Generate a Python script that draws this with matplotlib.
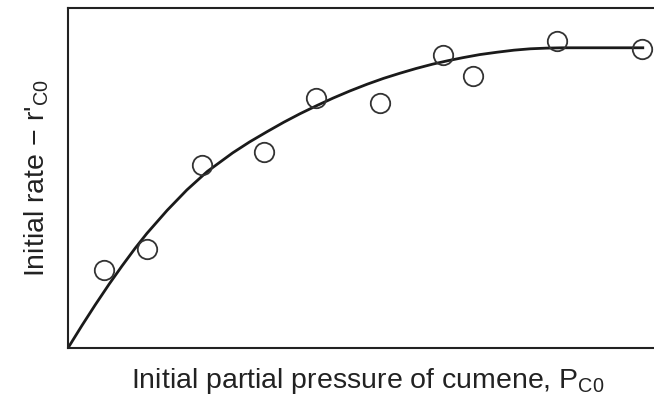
import matplotlib
matplotlib.use("Agg")
import matplotlib.pyplot as plt

plt.rcParams["font.family"] = ["Liberation Sans", "DejaVu Sans"]
plt.rcParams["mathtext.fontset"] = "custom"
plt.rcParams["mathtext.rm"] = "Liberation Sans"
plt.rcParams["mathtext.it"] = "Liberation Sans:italic"

p_meas = [0.62, 1.36, 2.31, 3.38, 4.28, 5.38, 6.47, 6.98, 8.43, 9.90]
r_meas = [2.29, 2.91, 5.38, 5.76, 7.35, 7.21, 8.62, 8.00, 9.03, 8.79]

# fitted curve
p_fit = [0.0, 0.24, 0.47, 0.71, 0.93, 1.16, 1.36, 1.71, 2.05, 2.40, 2.84,
         3.13, 3.43, 3.72, 4.00, 4.29, 4.57, 4.86, 5.16, 5.44, 5.72, 6.00,
         6.29, 6.55, 6.81, 7.10, 7.40, 7.69, 7.97, 8.25, 8.53, 9.20, 9.91]
r_fit = [0.0, 0.66, 1.27, 1.88, 2.41, 2.94, 3.37, 4.05, 4.65, 5.19, 5.74,
         6.06, 6.36, 6.64, 6.89, 7.13, 7.35, 7.56, 7.76, 7.93, 8.08, 8.22,
         8.35, 8.45, 8.54, 8.63, 8.70, 8.76, 8.80, 8.82, 8.83, 8.83, 8.83]

fig = plt.figure(figsize=(6.54, 4.11), dpi=100)
ax = fig.add_axes([68 / 654, 63 / 411, 600 / 654, 340 / 411])

ax.plot(p_fit, r_fit, color="#1a1a1a", linewidth=2.0,
        solid_joinstyle="round", zorder=2)
ax.plot(p_meas, r_meas, linestyle="none", marker="o", markersize=14,
        markerfacecolor="none", markeredgecolor="#333333",
        markeredgewidth=1.3, zorder=3)

ax.set_xlim(0, 600 / 58)
ax.set_ylim(0, 10)
ax.set_xticks([])
ax.set_yticks([])
ax.spines["right"].set_visible(False)
for side in ("left", "top", "bottom"):
    ax.spines[side].set_linewidth(1.5)
    ax.spines[side].set_color("#222222")

ax.set_xlabel(r"Initial partial pressure of cumene, P$_{\mathrm{C0}}$",
              fontsize=20.5, color="#222222", labelpad=13)
ax.set_ylabel(r"Initial rate $-$ r$'_{\mathrm{C0}}$",
              fontsize=20.5, color="#222222", labelpad=12)

fig.savefig("out.png", dpi=100)
